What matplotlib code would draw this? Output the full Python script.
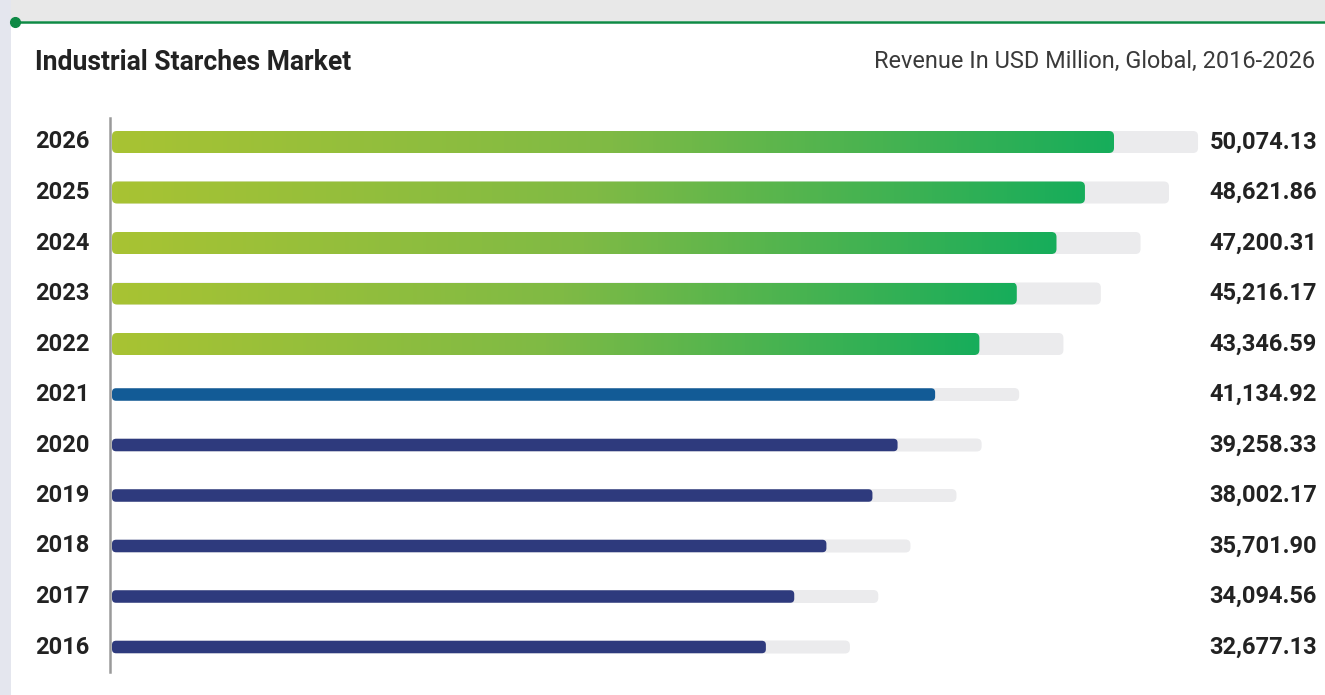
import numpy as np
import matplotlib
matplotlib.use("Agg")
import matplotlib.pyplot as plt
from matplotlib.patches import FancyBboxPatch, Rectangle
from matplotlib.colors import LinearSegmentedColormap

plt.rcParams['font.family'] = ['Roboto', 'DejaVu Sans']

years = ["2016", "2017", "2018", "2019", "2020", "2021", "2022", "2023", "2024", "2025", "2026"]
values = [32677.13, 34094.56, 35701.90, 38002.17, 39258.33, 41134.92,
          43346.59, 45216.17, 47200.31, 48621.86, 50074.13]
labels = ["32,677.13", "34,094.56", "35,701.90", "38,002.17", "39,258.33", "41,134.92",
          "43,346.59", "45,216.17", "47,200.31", "48,621.86", "50,074.13"]
forecast = [False, False, False, False, False, False, True, True, True, True, True]

TRACK_EXTRA = 4200
W, H = 1325, 695
fig = plt.figure(figsize=(W / 100, H / 100), dpi=100)
fig.patch.set_facecolor("white")

# background frame
bg = fig.add_axes([0, 0, 1, 1])
bg.set_xlim(0, W)
bg.set_ylim(H, 0)
bg.axis("off")
bg.add_patch(Rectangle((0, 0), W, 21, color="#e8e8e8", lw=0))
bg.add_patch(Rectangle((0, 0), 11, H, color="#e4e6ee", lw=0))
bg.plot([15, W], [21.5, 21.5], color="#0f8a45", lw=1.8, solid_capstyle="butt")
bg.plot([15], [21.5], "o", color="#0f8a45", ms=7)

# main axes
x0, x1 = 112, W
ytop, ybot = 118, 672
px_per_unit = 1002 / 50074.13
ax = fig.add_axes([x0 / W, (H - ybot) / H, (x1 - x0) / W, (ybot - ytop) / H])
ax.set_xlim(0, (x1 - x0) / px_per_unit)
row_px = 50.5
ax.set_ylim(-(ybot - 647) / row_px, (647 - ytop) / row_px)
ax.patch.set_alpha(0)
for s in ["top", "right", "bottom"]:
    ax.spines[s].set_visible(False)
ax.spines["left"].set_color("#9a9a9a")
ax.spines["left"].set_linewidth(1.8)
ax.spines["left"].set_position(("data", -100))
ax.set_xticks([])
ax.set_yticks([])

units_per_px_x = 1 / px_per_unit
units_per_px_y = 1 / row_px
aspect = units_per_px_y / units_per_px_x
rad = 5 * units_per_px_x

cmap = LinearSegmentedColormap.from_list("g", ["#a8c333", "#7fba45", "#17ad5b"])
grad = np.linspace(0, 1, 256).reshape(1, -1)

for i, (v, f) in enumerate(zip(values, forecast)):
    h = (22 if f else 12.5) * units_per_px_y
    th = (22 if f else 13) * units_per_px_y
    track = FancyBboxPatch((0, i - th / 2), v + TRACK_EXTRA, th,
                           boxstyle=f"round,pad=0,rounding_size={rad}",
                           mutation_aspect=aspect, fc="#ebebed", ec="none", zorder=1)
    ax.add_patch(track)
    if f:
        bar = FancyBboxPatch((0, i - h / 2), v, h,
                             boxstyle=f"round,pad=0,rounding_size={rad}",
                             mutation_aspect=aspect, fc="none", ec="none", zorder=2)
        ax.add_patch(bar)
        im = ax.imshow(grad, cmap=cmap, aspect="auto", extent=(0, v, i - h / 2, i + h / 2),
                       zorder=2, interpolation="bilinear")
        im.set_clip_path(bar)
    else:
        col = "#125b96" if years[i] == "2021" else "#2e3a7d"
        bar = FancyBboxPatch((0, i - h / 2), v, h,
                             boxstyle=f"round,pad=0,rounding_size={rad*0.8}",
                             mutation_aspect=aspect, fc=col, ec="none", zorder=2)
        ax.add_patch(bar)
    ax.text(-50 * units_per_px_x, i, years[i], ha="center", va="center",
            fontsize=17, fontweight="bold", color="#222222", clip_on=False)
    ax.text((1317 - x0) * units_per_px_x, i, labels[i], ha="right", va="center",
            fontsize=17, fontweight="bold", color="#222222", clip_on=False)

fig.text(35 / W, 1 - 62 / H, "Industrial Starches Market", ha="left", va="center",
         fontsize=19.1, fontweight="bold", color="#222222")
fig.text(1315 / W, 1 - 61 / H, "Revenue In USD Million, Global, 2016-2026", ha="right",
         va="center", fontsize=16.95, fontweight="normal", color="#3a3a3a")

fig.savefig("out.png", dpi=100)
